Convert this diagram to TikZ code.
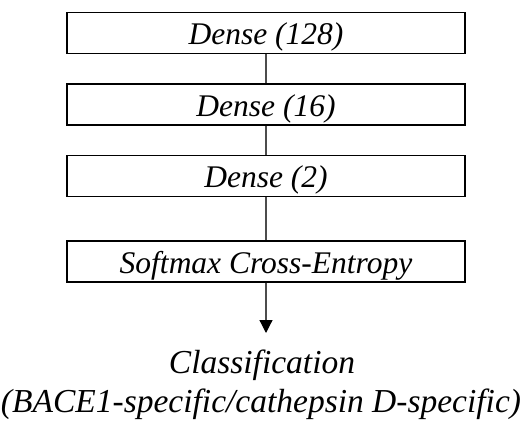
\documentclass[tikz,border=0pt]{standalone}
\usepackage{fontspec}
\setmainfont{Liberation Serif}
\usetikzlibrary{arrows.meta}
\begin{document}
\begin{tikzpicture}[x=1pt,y=-1pt,
  layerbox/.style={draw=black, line width=1.6pt, minimum width=398pt, minimum height=41pt, inner sep=0pt,
    font=\fontsize{31.5}{33}\selectfont\itshape, text height=27pt, text depth=4pt},
  link/.style={draw=black!70, line width=1.2pt},
  lbl/.style={font=\fontsize{33.5}{39}\selectfont\itshape, align=center, inner sep=0pt}]
\useasboundingbox (0,0) rectangle (528,437);
\node[layerbox] (d1) at (266,33) {Dense (128)};
\node[layerbox] (d2) at (266,104.5) {Dense (16)};
\node[layerbox] (d3) at (266,176) {Dense (2)};
\node[layerbox] (sm) at (266,261.5) {Softmax Cross-Entropy};
\coordinate (tip) at (266,333);
\node[lbl, anchor=base] (cls) at (262,373) {Classification};
\node[lbl, anchor=base] (sub) at (261,412) {(BACE1-specific/cathepsin D-specific)};
\draw[link] (d1) -- (d2);
\draw[link] (d2) -- (d3);
\draw[link] (d3) -- (sm);
\draw[link, -{Triangle[width=13pt,length=13pt,fill=black,color=black]}] (sm) -- (tip);
\end{tikzpicture}
\end{document}
